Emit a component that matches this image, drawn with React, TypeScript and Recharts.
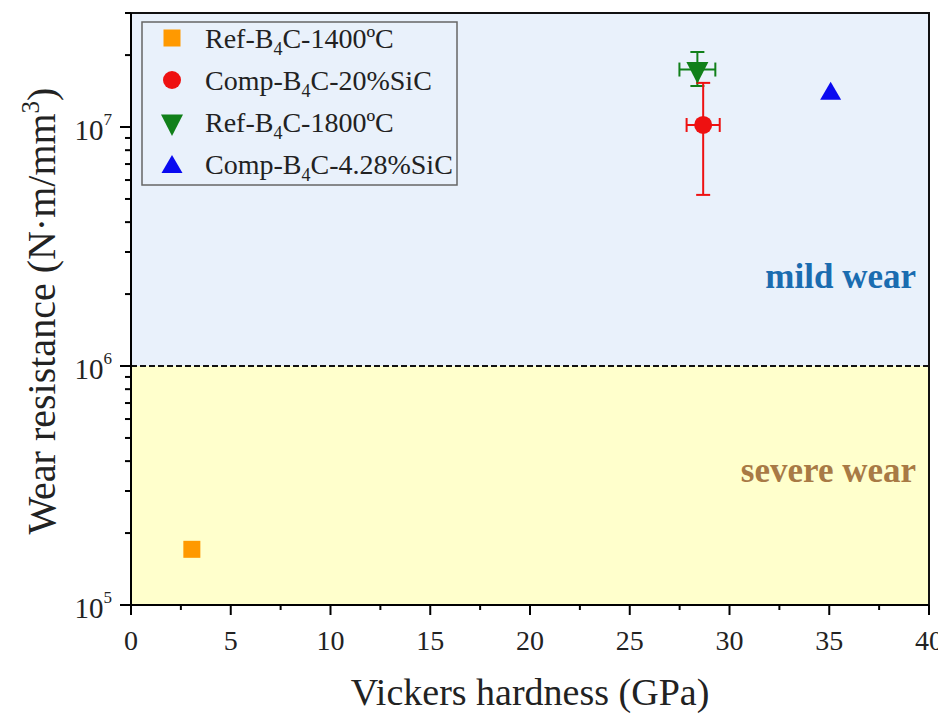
import React from 'react';
import {
  ScatterChart,
  Scatter,
  XAxis,
  YAxis,
  ErrorBar,
  ReferenceArea,
  ReferenceLine,
  ReferenceDot,
  Legend,
  Label,
} from 'recharts';

const FONT = '"Liberation Serif", "Times New Roman", serif';

// ---- data ----
const xTicks = [0, 2.5, 5, 7.5, 10, 12.5, 15, 17.5, 20, 22.5, 25, 27.5, 30, 32.5, 35, 37.5, 40];
const yTicks = [
  1e5, 2e5, 3e5, 4e5, 5e5, 6e5, 7e5, 8e5, 9e5,
  1e6, 2e6, 3e6, 4e6, 5e6, 6e6, 7e6, 8e6, 9e6,
  1e7, 2e7, 3e7,
];
const xDomain = [0, 40];
const yDomain = [1e5, 3e7];
const wearThreshold = 1e6;

const refB4C1400 = [{ x: 3.05, y: 1.71e5 }];
const compB4C20SiC = [{ x: 28.68, y: 1.02e7, xErr: 0.83, yErr: [5.0e6, 5.1e6] }];
const refB4C1800 = [{ x: 28.39, y: 1.74e7, xErr: 0.9, yErr: [2.55e6, 3.2e6] }];
const compB4C428SiC = [{ x: 35.07, y: 1.42e7 }];

// name parts: [before subscript, subscript, after subscript]
const legendNames = [
  ['Ref-B', '4', 'C-1400ºC'],
  ['Comp-B', '4', 'C-20%SiC'],
  ['Ref-B', '4', 'C-1800ºC'],
  ['Comp-B', '4', 'C-4.28%SiC'],
];
const seriesColors = ['#FF9900', '#EE1111', '#11801A', '#0A0AF0'];
const regionLabels = ['mild wear', 'severe wear'];
const regionLabelPos = [
  { x: 39.35, y: 2.36e6 },
  { x: 39.35, y: 3.64e5 },
];
const regionLabelColors = ['#1A6CB0', '#A87A45'];

// ---- marker shapes ----
const Square = ({ cx, cy, fill }: any) => (
  <rect x={cx - 8.5} y={cy - 8.5} width={17} height={17} fill={fill} />
);
const Circle = ({ cx, cy, fill }: any) => <circle cx={cx} cy={cy} r={9} fill={fill} />;
const TriDown = ({ cx, cy, fill }: any) => (
  <polygon points={`${cx - 11},${cy - 7.5} ${cx + 11},${cy - 7.5} ${cx},${cy + 14}`} fill={fill} />
);
const TriUp = ({ cx, cy, fill }: any) => (
  <polygon points={`${cx - 10.5},${cy + 9} ${cx + 10.5},${cy + 9} ${cx},${cy - 9}`} fill={fill} />
);
const shapes = [Square, Circle, TriDown, TriUp];

// ---- ticks ----
const XTick = (props: any) => {
  const { x, y, payload } = props;
  const v = payload.value;
  const major = Math.abs(v % 5) < 1e-9;
  return (
    <g>
      <line x1={x} x2={x} y1={y} y2={y + (major ? 10 : 5)} stroke="#000" strokeWidth={2} />
      {major && (
        <text x={x} y={y + 45} textAnchor="middle" fontSize={28} fontFamily={FONT} fill="#222">
          {v}
        </text>
      )}
    </g>
  );
};

const YTick = (props: any) => {
  const { x, y, payload } = props;
  const v = payload.value;
  const e = Math.log10(v);
  const major = Math.abs(e - Math.round(e)) < 1e-6;
  return (
    <g>
      <line x1={x} x2={x - (major ? 11 : 6)} y1={y} y2={y} stroke="#000" strokeWidth={2} />
      {major && (
        <text x={x - 19} y={y + 13} textAnchor="end" fontSize={29} fontFamily={FONT} fill="#222">
          10
          <tspan fontSize={17} dy={-15}>
            {Math.round(e)}
          </tspan>
        </text>
      )}
    </g>
  );
};

const XTitle = (props: any) => {
  const vb = props.viewBox || {};
  return (
    <text
      x={vb.x + vb.width / 2}
      y={vb.y + 100}
      textAnchor="middle"
      fontSize={38}
      fontFamily={FONT}
      fill="#222"
    >
      Vickers hardness (GPa)
    </text>
  );
};

const YTitle = (props: any) => {
  const vb = props.viewBox || {};
  const cx = 47;
  const cy = vb.y + vb.height / 2 + 2;
  return (
    <text
      x={cx}
      y={cy}
      transform={`rotate(-90 ${cx} ${cy})`}
      textAnchor="middle"
      fontSize={40}
      fontFamily={FONT}
      fill="#222"
    >
      Wear resistance (N·m/mm
      <tspan fontSize={25} dy={-16}>
        3
      </tspan>
      <tspan dy={16}>)</tspan>
    </text>
  );
};

const LegendBox = () => (
  <svg width={318} height={166} style={{ display: 'block' }}>
    <rect x={1} y={1} width={315} height={163} fill="none" stroke="#666" strokeWidth={1.5} />
    {legendNames.map((parts, i) => {
      const cy = 17 + i * 42;
      const Shape = shapes[i];
      return (
        <g key={i}>
          <Shape cx={31} cy={cy} fill={seriesColors[i]} />
          <text x={64} y={cy + 10} fontSize={28} fontFamily={FONT} fill="#222">
            {parts[0]}
            <tspan fontSize={18} dy={7}>
              {parts[1]}
            </tspan>
            <tspan dy={-7}>{parts[2]}</tspan>
          </text>
        </g>
      );
    })}
  </svg>
);

export default function App() {
  return (
    <>
      <style>{'html,body{overflow:hidden;}'}</style>
      <ScatterChart
        width={938}
        height={706}
        margin={{ top: 5, right: 17, left: 0, bottom: 0 }}
      >
        <XAxis
          type="number"
          dataKey="x"
          domain={xDomain}
          ticks={xTicks}
          interval={0}
          allowDataOverflow
          height={109}
          tickSize={0}
          tickMargin={0}
          tickLine={false}
          axisLine={{ stroke: '#000', strokeWidth: 2 }}
          tick={<XTick />}
        >
          <Label content={XTitle} />
        </XAxis>
        <YAxis
          type="number"
          dataKey="y"
          scale="log"
          domain={yDomain}
          ticks={yTicks}
          interval={0}
          allowDataOverflow
          width={123}
          tickSize={0}
          tickMargin={0}
          tickLine={false}
          axisLine={{ stroke: '#000', strokeWidth: 2 }}
          tick={<YTick />}
        >
          <Label content={YTitle} />
        </YAxis>
        <ReferenceArea y1={wearThreshold} y2={yDomain[1]} x1={xDomain[0]} x2={xDomain[1]} fill="#E9F1FB" fillOpacity={1} stroke="none" />
        <ReferenceArea y1={yDomain[0]} y2={wearThreshold} x1={xDomain[0]} x2={xDomain[1]} fill="#FFFFCC" fillOpacity={1} stroke="none" />
        <ReferenceLine y={wearThreshold} stroke="#111" strokeWidth={2} strokeDasharray="6 3" />
        <ReferenceArea
          y1={yDomain[0]}
          y2={yDomain[1]}
          x1={xDomain[0]}
          x2={xDomain[1]}
          fill="none"
          fillOpacity={0}
          stroke="#111"
          strokeWidth={2}
        />
        {regionLabels.map((t, i) => (
          <ReferenceDot
            key={t}
            x={regionLabelPos[i].x}
            y={regionLabelPos[i].y}
            r={0}
            shape={(p: any) => (
              <text
                x={p.cx}
                y={p.cy + 11}
                textAnchor="end"
                fontSize={35}
                fontWeight="bold"
                fontFamily={FONT}
                fill={regionLabelColors[i]}
              >
                {t}
              </text>
            )}
          />
        ))}
        <Scatter data={refB4C1400} fill={seriesColors[0]} shape={Square} isAnimationActive={false} />
        <Scatter data={refB4C1800} fill={seriesColors[2]} shape={TriDown} isAnimationActive={false}>
          <ErrorBar dataKey="yErr" direction="y" width={7} stroke={seriesColors[2]} strokeWidth={2} />
          <ErrorBar dataKey="xErr" direction="x" width={7} stroke={seriesColors[2]} strokeWidth={2} />
        </Scatter>
        <Scatter data={compB4C20SiC} fill={seriesColors[1]} shape={Circle} isAnimationActive={false}>
          <ErrorBar dataKey="yErr" direction="y" width={7} stroke={seriesColors[1]} strokeWidth={2} />
          <ErrorBar dataKey="xErr" direction="x" width={7} stroke={seriesColors[1]} strokeWidth={2} />
        </Scatter>
        <Scatter data={compB4C428SiC} fill={seriesColors[3]} shape={TriUp} isAnimationActive={false} />
        <Legend
          layout="vertical"
          align="center"
          verticalAlign="middle"
          content={() => <LegendBox />}
          wrapperStyle={{ position: 'absolute', left: 133, top: 13, width: 318, height: 166 }}
        />
      </ScatterChart>
    </>
  );
}
